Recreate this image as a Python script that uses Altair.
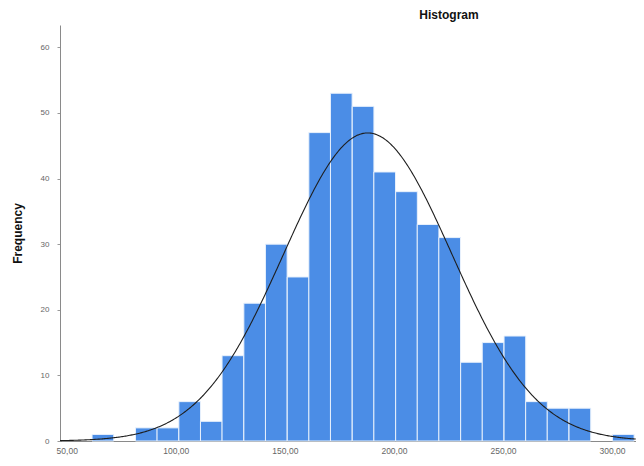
import altair as alt
import pandas as pd

# Histogram bins (lower edges) and counts
bin_starts = [61.6, 71.5, 81.5, 91.4, 101.4, 111.3, 121.2, 131.2, 141.1, 151.1,
              161.0, 170.9, 180.9, 190.8, 200.8, 210.7, 220.6, 230.6, 240.5, 250.5,
              260.4, 270.3, 280.3, 290.2, 300.2]
counts = [1, 0, 2, 2, 6, 3, 13, 21, 30, 25,
          47, 53, 51, 41, 38, 33, 31, 12, 15, 16,
          6, 5, 5, 0, 1]
bin_width = 9.94
x_ticks = [50, 100, 150, 200, 250, 300]
y_ticks = [0, 10, 20, 30, 40, 50, 60]
fit_mean = 188.0
fit_sd = 38.6
n_total = sum(counts)

df = pd.DataFrame({
    "lo": bin_starts,
    "hi": [b + bin_width for b in bin_starts],
    "count": counts,
})
df = df[df["count"] > 0]

FONT = "Liberation Sans"
x_scale = alt.Scale(domain=[46.9, 311.0], nice=False, zero=False)
y_scale = alt.Scale(domain=[0, 63.4], nice=False)

bars = alt.Chart(df).mark_bar(color="#4b8de6", stroke="#e8f1fc", strokeWidth=1).encode(
    x=alt.X("lo:Q", scale=x_scale,
            axis=alt.Axis(values=x_ticks, title=None,
                          labelExpr="replace(format(datum.value, '.2f'), '.', ',')",
                          labelFont=FONT, labelFontSize=8.5, labelColor="#666666",
                          labelPadding=5, ticks=False, domainColor="#8a8a8a",
                          grid=False, labelFlush=False)),
    x2="hi:Q",
    y=alt.Y("count:Q", scale=y_scale,
            axis=alt.Axis(values=y_ticks, title="Frequency",
                          titleFont=FONT, titleFontSize=12, titleFontWeight="bold",
                          titleColor="#111111", titlePadding=16,
                          labelFont=FONT, labelFontSize=8, labelColor="#666666",
                          labelPadding=8, tickSize=3, tickColor="#9a9a9a",
                          domainColor="#8a8a8a", grid=False)),
    y2=alt.datum(0),
)

density = (f"{n_total * bin_width}/({fit_sd}*sqrt(2*PI))"
           f"*exp(-0.5*pow((datum.x-{fit_mean})/{fit_sd},2))")
curve = alt.Chart(alt.sequence(46.9, 311.0, 0.5, as_="x")).transform_calculate(
    y=density
).mark_line(color="#1e1e1e", strokeWidth=1.1).encode(
    x=alt.X("x:Q", scale=x_scale),
    y=alt.Y("y:Q", scale=y_scale),
)

chart = alt.layer(bars, curve).properties(
    width=576,
    height=416,
    autosize=alt.AutoSizeParams(type="none"),
    padding={"left": 52, "top": 17, "right": 0, "bottom": 17},
    title=alt.Title("Histogram", font=FONT, fontSize=12, fontWeight="bold",
                    color="#111111", anchor="middle", dx=101, offset=3),
).configure_view(stroke=None)

chart.save("out.html", embed_options={"renderer": "svg", "actions": False})
